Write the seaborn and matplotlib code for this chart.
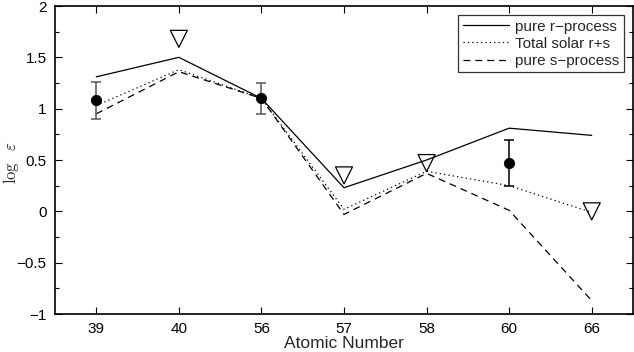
import numpy as np
import pandas as pd
import matplotlib
matplotlib.use("Agg")
import matplotlib.pyplot as plt
import seaborn as sns
from matplotlib.ticker import MultipleLocator

# Element atomic numbers (categorical x axis)
elements = ["39", "40", "56", "57", "58", "60", "66"]

# Model abundance curves
pure_r = [1.31, 1.50, 1.10, 0.23, 0.50, 0.81, 0.74]
total_rs = [1.03, 1.38, 1.10, 0.02, 0.39, 0.25, -0.01]
pure_s = [0.95, 1.36, 1.10, -0.03, 0.37, 0.01, -0.87]

# Measured abundances with error bars
meas_elements = ["39", "56", "60"]
meas_values = [1.08, 1.10, 0.47]
meas_errors = [0.18, 0.15, 0.225]
meas_colors = ["#555555", "#555555", "black"]

# Upper limits
lim_elements = ["40", "57", "58", "66"]
lim_values = [1.68, 0.35, 0.47, 0.0]

sns.set_theme(style="ticks")
plt.rcParams["font.family"] = ["Liberation Sans", "DejaVu Sans"]
plt.rcParams["mathtext.fontset"] = "cm"
plt.rcParams["xtick.direction"] = "in"
plt.rcParams["ytick.direction"] = "in"

pos = {e: i for i, e in enumerate(elements)}

fig = plt.figure(figsize=(6.34, 3.52), dpi=100)
ax = fig.add_axes([55 / 634, 1 - 314 / 352, 578 / 634, 308 / 352])

curves = pd.DataFrame({
    "x": list(range(len(elements))) * 3,
    "y": pure_r + total_rs + pure_s,
    "model": ["pure r\u2212process"] * 7 + ["Total solar r+s"] * 7 + ["pure s\u2212process"] * 7,
})
styles = {"pure r\u2212process": "-", "Total solar r+s": (0, (1, 2.5)),
          "pure s\u2212process": (0, (5.5, 4))}
for name, ls in styles.items():
    sub = curves[curves["model"] == name]
    sns.lineplot(data=sub, x="x", y="y", ax=ax, color="black", linestyle=ls,
                 linewidth=0.9, label=name, estimator=None, sort=False)

for e, v, err, c in zip(meas_elements, meas_values, meas_errors, meas_colors):
    ax.errorbar(pos[e], v, yerr=err, fmt="none", ecolor=c, elinewidth=1.1,
                capsize=3.5, capthick=1.1, zorder=3)
sns.scatterplot(x=[pos[e] for e in meas_elements], y=meas_values, ax=ax,
                color="black", s=55, edgecolor="black", zorder=4, legend=False)

sns.scatterplot(x=[pos[e] for e in lim_elements], y=lim_values, ax=ax,
                marker="v", s=150, facecolor="none", edgecolor="black",
                linewidth=0.9, zorder=4, legend=False)

ax.set_xlim(-0.5, len(elements) - 0.5)
ax.set_ylim(-1, 2)
ax.set_xticks(range(len(elements)))
ax.set_xticklabels(elements)
ax.yaxis.set_major_locator(MultipleLocator(0.5))
ax.yaxis.set_minor_locator(MultipleLocator(0.25))
ax.yaxis.set_major_formatter(plt.FuncFormatter(lambda v, p: f"{v:g}".replace("-", "\u2212")))
ax.tick_params(which="both", top=True, right=True, labelsize=11, width=0.8,
               colors="black", pad=6)
ax.tick_params(which="major", length=5)
ax.tick_params(which="minor", length=3)
ax.tick_params(axis="x", which="minor", top=False, bottom=False)
for sp in ax.spines.values():
    sp.set_linewidth(1.2)
    sp.set_color("black")

ax.set_xlabel("Atomic Number", fontsize=12.5, labelpad=0)
ax.set_ylabel(r"$\log\ \ \varepsilon$", fontsize=12)
ax.yaxis.set_label_coords(-0.058, 0.49)

leg = ax.legend(loc="upper right", fontsize=11, frameon=True, fancybox=False,
                edgecolor="black", handlelength=3.0, handletextpad=0.4,
                borderaxespad=0.6, borderpad=0.3, labelspacing=0.2)
leg.get_frame().set_linewidth(0.9)

fig.savefig("out.png", dpi=100)
